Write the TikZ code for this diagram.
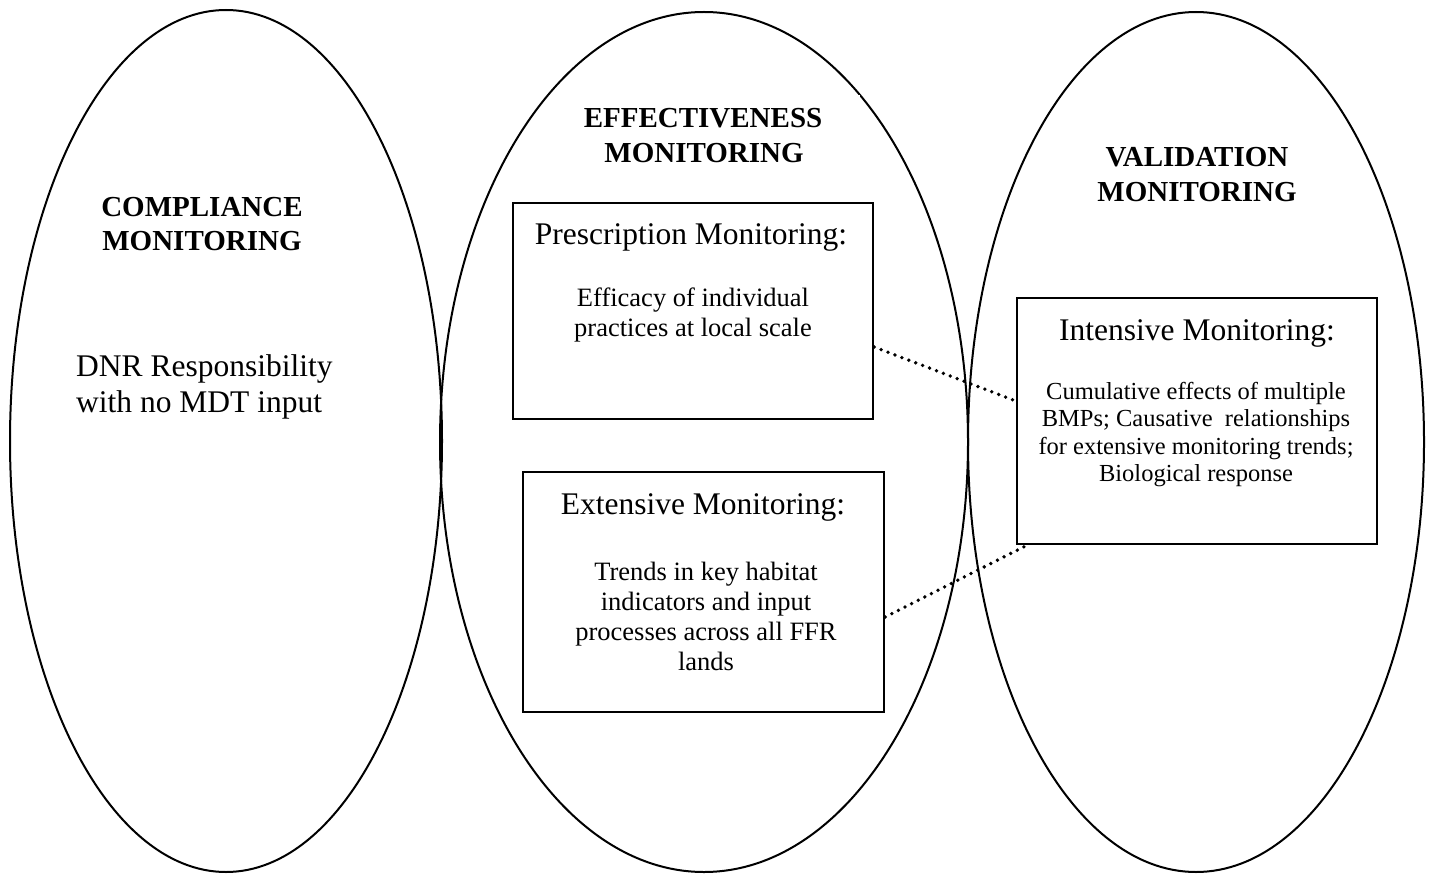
\documentclass[tikz,border=0pt]{standalone}
\usepackage{fontspec}
\setmainfont{Liberation Serif}
\begin{document}
\begin{tikzpicture}[x=1pt,y=-1pt,
  oval/.style={line width=2pt},
  box/.style={draw, line width=2.4pt, inner sep=0pt},
  ttl/.style={font=\fontsize{29}{34}\selectfont\bfseries, anchor=base, inner sep=0pt},
  head/.style={font=\fontsize{31.5}{36}\selectfont, anchor=base, inner sep=0pt},
  body/.style={font=\fontsize{26.5}{30}\selectfont, anchor=base, inner sep=0pt},
  small/.style={font=\fontsize{24.5}{27.5}\selectfont, anchor=base, inner sep=0pt},
  link/.style={line width=3.8pt, line cap=round, dash pattern=on 0pt off 7.4pt}]
\useasboundingbox (0,0) rectangle (1431,874);
% ovals
\draw[oval] (226,441) ellipse [x radius=216, y radius=431];
\draw[oval] (704,442) ellipse [x radius=264, y radius=430];
\draw[oval] (1196,442) ellipse [x radius=228, y radius=430];
% white background of effectiveness title
\node[fill=white, minimum width=310pt, minimum height=85pt, anchor=north, inner sep=0pt] (effbg) at (705,95) {};
% titles
\node[ttl] (ct1) at (202,217) {COMPLIANCE};
\node[ttl] (ct2) at (202,251) {MONITORING};
\node[head, anchor=base west] (dnr1) at (76,376) {DNR Responsibility};
\node[head, anchor=base west] (dnr2) at (76,412) {with no MDT input};
\node[ttl] (et1) at (703,128) {EFFECTIVENESS};
\node[ttl] (et2) at (704,163) {MONITORING};
\node[ttl] (vt1) at (1197,167) {VALIDATION};
\node[ttl] (vt2) at (1197,202) {MONITORING};
% boxes
\node[box, minimum width=360pt, minimum height=216pt] (pres) at (693,311) {};
\node[box, minimum width=361pt, minimum height=240pt] (ext) at (703.5,592) {};
\node[box, minimum width=360pt, minimum height=246pt] (int) at (1197,421) {};
% box texts
\node[head] (ph) at (691,245) {Prescription Monitoring:};
\node[body] (pb1) at (693,307) {Efficacy of individual};
\node[body] (pb2) at (693,337) {practices at local scale};
\node[head] (eh) at (703,514) {Extensive Monitoring:};
\node[body] (eb1) at (706,580) {Trends in key habitat};
\node[body] (eb2) at (706,610) {indicators and input};
\node[body] (eb3) at (706,640) {processes across all FFR};
\node[body] (eb4) at (706,670) {lands};
\node[head] (ih) at (1197,340) {Intensive Monitoring:};
\node[small] (ib1) at (1196,399) {Cumulative effects of multiple};
\node[small] (ib2) at (1196,426.5) {BMPs; Causative\ \ relationships};
\node[small] (ib3) at (1196,454) {for extensive monitoring trends;};
\node[small] (ib4) at (1196,481.5) {Biological response};
% dotted links
\draw[link] ([yshift=-36pt]pres.east) -- ([yshift=20pt]int.west);
\draw[link] ([yshift=-25pt]ext.east) -- ([xshift=-170pt]int.south);
\end{tikzpicture}
\end{document}
